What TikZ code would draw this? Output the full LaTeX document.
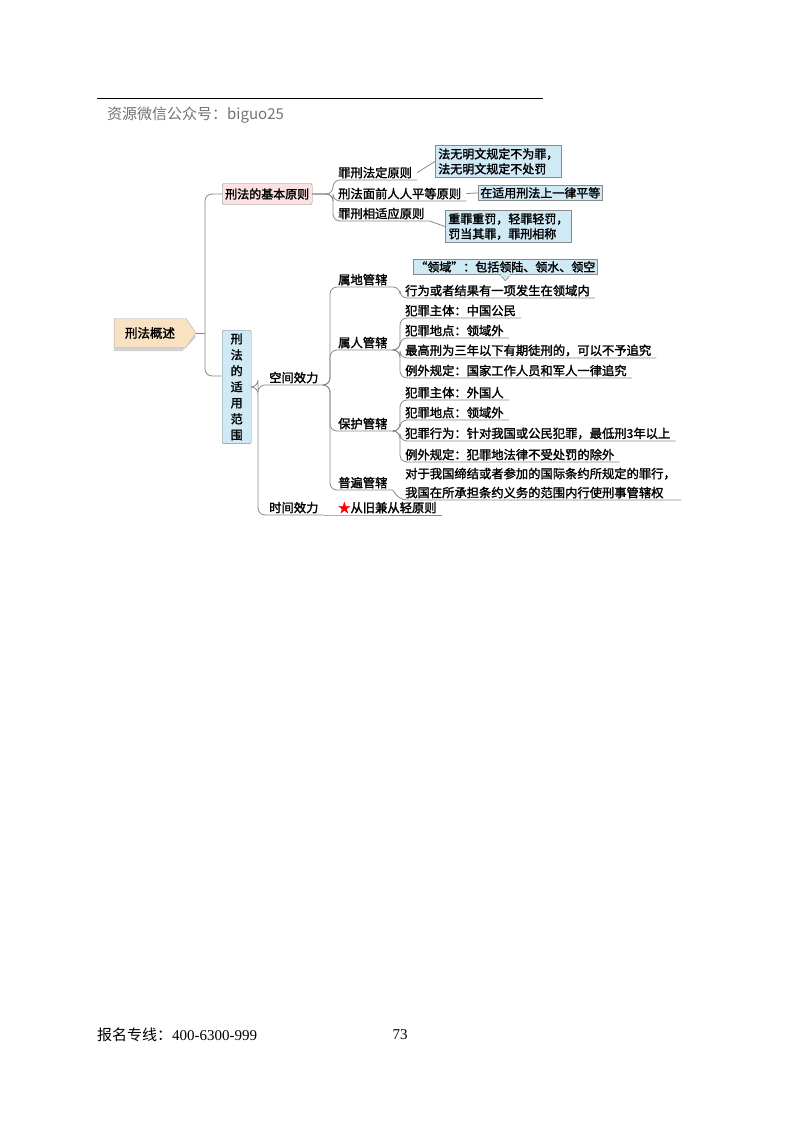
\documentclass[tikz,border=0pt]{standalone}
\usepackage{fontspec}
\setmainfont{Liberation Serif}
\newfontfamily\cjk{Noto Sans CJK SC}
\newfontfamily\cjkb{Noto Sans CJK SC}[FakeBold=1.8]
\usetikzlibrary{shapes.arrows,shapes.symbols}
\definecolor{bluebox}{HTML}{CFE9F5}
\definecolor{pinkbox}{HTML}{FBE1E1}
\definecolor{tanbox}{HTML}{F8E2C2}
\definecolor{lncol}{HTML}{8A8A8A}
\tikzset{
 ln/.style={draw=lncol,line width=0.8pt,rounded corners=7pt},
 lf/.style={anchor=south west,inner xsep=5pt,inner ysep=1.5pt,font=\cjkb\fontsize{12.3}{14}\selectfont},
 bx/.style={draw=lncol,line width=0.6pt,fill=bluebox,inner sep=3pt,align=left,font=\cjkb\fontsize{12}{15}\selectfont,anchor=north west}
}
\begin{document}
\begin{tikzpicture}[x=1pt,y=-1pt]
\useasboundingbox (0,0) rectangle (800,1124);
\fill[white] (0,0) rectangle (800,1124);
% header / footer
\draw[black,line width=0.6pt] (97,98) -- (543,98);
\node[anchor=west,text=gray!90!black,font=\cjk\fontsize{15}{17}\selectfont,inner sep=0] (hd) at (107,115) {资源微信公众号：biguo25};
\node[anchor=west,inner sep=0,font=\fontsize{15}{17}\selectfont] (ft) at (97,1035) {{\cjk 报名专线：}400-6300-999};
\node[inner sep=0,font=\fontsize{15}{17}\selectfont] (pg) at (400,1035) {73};
% root
\fill[gray!35] (114,323) -- (182,323) -- (196,337) -- (182,351) -- (114,351) -- cycle;
\node[signal,signal to=east,signal pointer angle=110,draw=lncol!70,fill=tanbox,minimum height=29pt,minimum width=82pt,font=\cjkb\fontsize{12.5}{14}\selectfont] (root) at (150,333) {刑法概述};
\coordinate (tr) at (205,333);
\draw[ln] (root.east) -- (tr);
\node[draw=lncol,fill=pinkbox,rounded corners=2pt,minimum width=80pt,minimum height=21pt,font=\cjkb\fontsize{12}{13}\selectfont,anchor=west,inner xsep=3pt] (b1) at (222,194) {刑法的基本原则};
\node[draw=lncol,fill=bluebox,rounded corners=2pt,minimum width=29pt,minimum height=112pt,align=center,font=\cjkb\fontsize{12}{16}\selectfont,anchor=north west] (b2) at (222,330) {刑\\法\\的\\适\\用\\范\\围};
\draw[ln] (tr) |- (b1.west);
\draw[ln] (tr) |- ([yshift=11pt]b2.west);
% basic principles
\node[lf] (p1) at (333,180) {罪刑法定原则};
\node[lf] (p2) at (333,201) {刑法面前人人平等原则};
\node[lf] (p3) at (333,221) {罪刑相适应原则};
\foreach \c in {p1,p2,p3} \draw[ln] (b1.east) -| (\c.south west) -- (\c.south east);
\node[bx] (q1) at (435,145) {法无明文规定不为罪，\\法无明文规定不处罚};
\node[bx,inner sep=2pt] (q2) at (478,185) {在适用刑法上一律平等};
\node[bx] (q3) at (445,210) {重罪重罚，轻罪轻罚，\\罚当其罪，罪刑相称};
\draw[ln] (p1.east) -- (q1.west);
\draw[ln] (p2.east) -- (q2.west);
\draw[ln] (p3.south east) -- (q3.west);
% scope
\node[lf] (k1) at (258,385) {\hspace{6pt}空间效力};
\node[lf] (k2) at (258,515) {\hspace{6pt}时间效力};
\draw[ln] (b2.east) -| (k1.south west) -- (k1.south east);
\draw[ln] (b2.east) -| (k2.south west) -- (k2.south east);
\node[lf] (t1) at (333,515) {{\color{red}★}从旧兼从轻原则};
\draw[ln] (k2.south east) -- (t1.south west) -- (t1.south east);
% space children
\node[lf] (s1) at (330,287) {\hspace{3pt}属地管辖};
\node[lf] (s2) at (330,350) {\hspace{3pt}属人管辖};
\node[lf] (s3) at (330,431) {\hspace{3pt}保护管辖};
\node[lf] (s4) at (330,490) {\hspace{3pt}普遍管辖};
\foreach \c in {s1,s2,s3,s4} \draw[ln] (k1.south east) -| (\c.south west) -- (\c.south east);
% 属地
\node[bx,inner sep=2pt] (c0) at (413,259) {“领域”：包括领陆、领水、领空};
\draw[draw=lncol,fill=bluebox,line width=0.6pt] ([xshift=-5pt]c0.south) -- ([yshift=-6pt]c0.south) -- ([xshift=5pt]c0.south);
\fill[bluebox] ([xshift=-4.4pt,yshift=0.4pt]c0.south) rectangle ([xshift=4.4pt,yshift=-1pt]c0.south);
\node[lf] (d1) at (400,298) {行为或者结果有一项发生在领域内};
\draw[ln] (s1.south east) -| (d1.south west) -- (d1.south east);
% 属人
\node[lf] (r1) at (400,318) {犯罪主体：中国公民};
\node[lf] (r2) at (400,338) {犯罪地点：领域外};
\node[lf] (r3) at (400,358) {最高刑为三年以下有期徒刑的，可以不予追究};
\node[lf] (r4) at (400,378) {例外规定：国家工作人员和军人一律追究};
\foreach \c in {r1,r2,r3,r4} \draw[ln] (s2.south east) -| (\c.south west) -- (\c.south east);
% 保护
\node[lf] (h1) at (400,400) {犯罪主体：外国人};
\node[lf] (h2) at (400,420) {犯罪地点：领域外};
\node[lf] (h3) at (400,441) {犯罪行为：针对我国或公民犯罪，最低刑3年以上};
\node[lf] (h4) at (400,462) {例外规定：犯罪地法律不受处罚的除外};
\foreach \c in {h1,h2,h3,h4} \draw[ln] (s3.south east) -| (\c.south west) -- (\c.south east);
% 普遍
\node[lf,align=left,font=\cjkb\fontsize{12.3}{19}\selectfont] (u1) at (400,500) {对于我国缔结或者参加的国际条约所规定的罪行，\\我国在所承担条约义务的范围内行使刑事管辖权};
\draw[ln] (s4.south east) -- (u1.south west) -- (u1.south east);
\end{tikzpicture}
\end{document}
